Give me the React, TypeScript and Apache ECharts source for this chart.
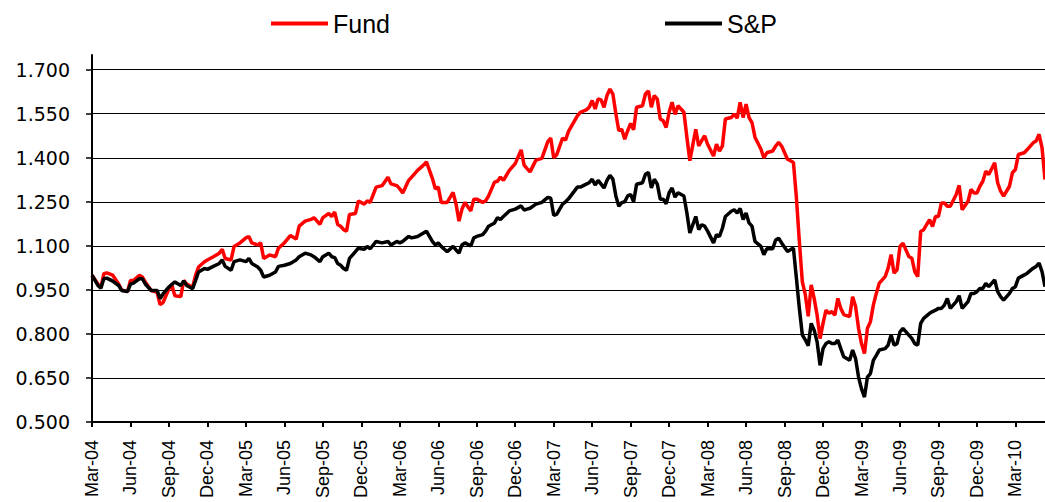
import React, { useEffect, useRef } from "react";
import * as echarts from "echarts";

const quarterLabels = [
  "Mar-04", "Jun-04", "Sep-04", "Dec-04", "Mar-05", "Jun-05", "Sep-05", "Dec-05",
  "Mar-06", "Jun-06", "Sep-06", "Dec-06", "Mar-07", "Jun-07", "Sep-07", "Dec-07",
  "Mar-08", "Jun-08", "Sep-08", "Dec-08", "Mar-09", "Jun-09", "Sep-09", "Dec-09", "Mar-10",
];
const weeksPerQuarter = 13;
const lastWeek = 322;
const yTicks = [0.5, 0.65, 0.8, 0.95, 1.1, 1.25, 1.4, 1.55, 1.7];
const seriesNames = ["Fund", "S&P"];

// week index since the first observation (Mar-04)
const weeks = [
  0, 2, 3, 4, 5, 7, 9, 10, 12, 13,
  14, 16, 17, 18, 20, 22, 23, 24, 26, 27,
  28, 30, 31, 32, 34, 35, 36, 38, 39, 41,
  43, 44, 45, 47, 48, 50, 52, 53, 54, 56,
  57, 58, 60, 62, 63, 65, 67, 69, 70, 72,
  74, 75, 77, 78, 80, 81, 82, 83, 84, 85,
  86, 87, 89, 90, 92, 93, 94, 96, 98, 100,
  101, 103, 104, 105, 107, 108, 110, 112, 113, 115,
  116, 117, 118, 120, 122, 123, 124, 125, 126, 128,
  129, 130, 132, 133, 134, 136, 137, 138, 139, 141,
  143, 145, 146, 147, 148, 150, 152, 154, 155, 156,
  157, 159, 160, 161, 164, 165, 167, 168, 169, 170,
  171, 172, 173, 174, 175, 176, 177, 178, 179, 180,
  181, 182, 183, 184, 186, 187, 188, 189, 190, 191,
  192, 193, 194, 195, 196, 197, 198, 200, 201, 202,
  204, 205, 206, 207, 208, 210, 211, 212, 213, 214,
  216, 217, 218, 219, 220, 221, 222, 223, 224, 226,
  227, 228, 230, 231, 232, 233, 235, 236, 237, 238,
  239, 240, 241, 242, 243, 244, 245, 246, 247, 248,
  249, 250, 251, 252, 253, 254, 256, 257, 258, 259,
  260, 261, 262, 263, 264, 265, 266, 268, 269, 270,
  271, 272, 273, 274, 276, 277, 278, 279, 280, 281,
  283, 284, 285, 286, 287, 288, 289, 290, 292, 293,
  294, 296, 297, 298, 299, 300, 301, 302, 303, 305,
  306, 307, 308, 310, 311, 312, 313, 315, 316, 318,
  319, 320, 321, 322,
];

const fund = [
  1.000, 0.970, 0.958, 1.005, 1.008, 1.000, 0.970, 0.950, 0.944, 0.982,
  0.982, 1.000, 0.994, 0.977, 0.948, 0.942, 0.900, 0.907, 0.954, 0.965,
  0.930, 0.927, 0.982, 0.970, 0.959, 1.000, 1.028, 1.046, 1.052, 1.063,
  1.075, 1.088, 1.057, 1.052, 1.098, 1.110, 1.127, 1.132, 1.110, 1.103,
  1.110, 1.057, 1.069, 1.063, 1.092, 1.110, 1.135, 1.123, 1.167, 1.184,
  1.190, 1.196, 1.173, 1.196, 1.210, 1.200, 1.215, 1.173, 1.167, 1.155,
  1.150, 1.207, 1.210, 1.253, 1.242, 1.253, 1.248, 1.300, 1.305, 1.334,
  1.311, 1.305, 1.294, 1.280, 1.323, 1.334, 1.357, 1.375, 1.386, 1.330,
  1.294, 1.300, 1.248, 1.248, 1.282, 1.242, 1.184, 1.225, 1.248, 1.219,
  1.259, 1.259, 1.248, 1.253, 1.270, 1.317, 1.320, 1.334, 1.323, 1.357,
  1.380, 1.427, 1.375, 1.363, 1.352, 1.392, 1.398, 1.455, 1.467, 1.400,
  1.410, 1.467, 1.460, 1.490, 1.543, 1.555, 1.563, 1.572, 1.595, 1.566,
  1.600, 1.597, 1.572, 1.612, 1.634, 1.617, 1.550, 1.492, 1.497, 1.463,
  1.492, 1.517, 1.495, 1.572, 1.577, 1.617, 1.628, 1.572, 1.612, 1.600,
  1.532, 1.526, 1.503, 1.555, 1.589, 1.548, 1.577, 1.555, 1.470, 1.390,
  1.497, 1.440, 1.458, 1.475, 1.446, 1.406, 1.446, 1.423, 1.440, 1.532,
  1.537, 1.549, 1.535, 1.589, 1.537, 1.583, 1.537, 1.520, 1.470, 1.430,
  1.400, 1.417, 1.423, 1.440, 1.452, 1.440, 1.395, 1.390, 1.384, 1.264,
  1.115, 0.978, 0.935, 0.860, 0.967, 0.921, 0.864, 0.784, 0.836, 0.881,
  0.870, 0.876, 0.864, 0.921, 0.887, 0.866, 0.859, 0.927, 0.893, 0.819,
  0.767, 0.733, 0.819, 0.841, 0.898, 0.938, 0.973, 0.995, 1.024, 1.070,
  1.007, 1.018, 1.098, 1.109, 1.064, 1.058, 1.012, 0.995, 1.149, 1.155,
  1.189, 1.166, 1.200, 1.200, 1.246, 1.246, 1.235, 1.235, 1.275, 1.306,
  1.223, 1.252, 1.292, 1.280, 1.280, 1.303, 1.320, 1.354, 1.343, 1.383,
  1.315, 1.286, 1.269, 1.303, 1.349, 1.360, 1.411, 1.417, 1.428, 1.451,
  1.457, 1.480, 1.434, 1.326,
];

const sp = [
  1.000, 0.965, 0.956, 0.988, 0.990, 0.980, 0.965, 0.948, 0.944, 0.970,
  0.973, 0.988, 0.988, 0.970, 0.948, 0.948, 0.920, 0.936, 0.960, 0.969,
  0.977, 0.965, 0.980, 0.965, 0.954, 0.982, 1.011, 1.023, 1.020, 1.030,
  1.040, 1.052, 1.030, 1.017, 1.046, 1.052, 1.046, 1.057, 1.040, 1.028,
  1.017, 0.994, 1.000, 1.011, 1.030, 1.034, 1.040, 1.052, 1.063, 1.075,
  1.069, 1.063, 1.046, 1.063, 1.075, 1.063, 1.060, 1.040, 1.034, 1.023,
  1.017, 1.057, 1.080, 1.092, 1.088, 1.098, 1.090, 1.115, 1.110, 1.115,
  1.103, 1.115, 1.110, 1.115, 1.132, 1.127, 1.132, 1.144, 1.150, 1.115,
  1.103, 1.110, 1.098, 1.080, 1.098, 1.086, 1.075, 1.103, 1.110, 1.100,
  1.127, 1.132, 1.138, 1.150, 1.167, 1.178, 1.196, 1.190, 1.200, 1.219,
  1.225, 1.236, 1.222, 1.225, 1.228, 1.242, 1.248, 1.265, 1.262, 1.204,
  1.207, 1.242, 1.250, 1.260, 1.300, 1.300, 1.310, 1.315, 1.327, 1.307,
  1.323, 1.310, 1.297, 1.323, 1.340, 1.327, 1.270, 1.235, 1.247, 1.250,
  1.270, 1.275, 1.250, 1.310, 1.315, 1.344, 1.350, 1.297, 1.327, 1.310,
  1.259, 1.259, 1.243, 1.281, 1.297, 1.266, 1.281, 1.270, 1.212, 1.144,
  1.200, 1.155, 1.172, 1.167, 1.150, 1.110, 1.138, 1.132, 1.160, 1.200,
  1.218, 1.223, 1.212, 1.227, 1.190, 1.212, 1.178, 1.167, 1.115, 1.098,
  1.070, 1.090, 1.090, 1.120, 1.126, 1.110, 1.081, 1.087, 1.092, 0.990,
  0.887, 0.797, 0.780, 0.760, 0.836, 0.813, 0.773, 0.693, 0.750, 0.767,
  0.773, 0.767, 0.767, 0.779, 0.750, 0.722, 0.710, 0.745, 0.716, 0.653,
  0.613, 0.585, 0.653, 0.665, 0.710, 0.727, 0.745, 0.750, 0.762, 0.796,
  0.762, 0.767, 0.807, 0.819, 0.796, 0.785, 0.767, 0.762, 0.836, 0.853,
  0.870, 0.876, 0.881, 0.887, 0.887, 0.898, 0.921, 0.887, 0.910, 0.930,
  0.887, 0.910, 0.938, 0.938, 0.944, 0.955, 0.955, 0.972, 0.961, 0.984,
  0.944, 0.927, 0.915, 0.938, 0.955, 0.961, 0.990, 1.001, 1.007, 1.024,
  1.030, 1.041, 1.012, 0.961,
];

export default function App() {
  const ref = useRef<HTMLDivElement>(null);

  useEffect(() => {
    if (!ref.current) return;
    const chart = echarts.init(ref.current, undefined, { renderer: "svg" });
    const quarterTicks = quarterLabels.map((_, i) => i * weeksPerQuarter);

    chart.setOption({
      animation: false,
      backgroundColor: "#ffffff",
      legend: {
        data: seriesNames,
        left: 266,
        top: 6,
        icon: "rect",
        itemWidth: 57,
        itemHeight: 4,
        itemGap: 275,
        textStyle: { fontFamily: "Liberation Sans", fontSize: 25, color: "#000" },
      },
      grid: { left: 92, right: 0, top: 55, bottom: 80, outerBoundsMode: "none", containLabel: false },
      xAxis: {
        type: "value",
        min: 0,
        max: lastWeek,
        splitLine: { show: false },
        axisLine: { lineStyle: { color: "#000", width: 2 } },
        axisTick: {
          show: true,
          customValues: quarterTicks,
          length: 5,
          lineStyle: { color: "#000", width: 2 },
        },
        axisLabel: {
          customValues: quarterTicks,
          rotate: 90,
          margin: 18,
          fontFamily: "Liberation Sans",
          fontSize: 18,
          color: "#000",
          formatter: (v: number) => quarterLabels[Math.round(v / weeksPerQuarter)] ?? "",
        },
      },
      yAxis: {
        type: "value",
        min: 0.5,
        max: 1.75,
        axisLine: { show: true, lineStyle: { color: "#000", width: 2 } },
        axisTick: {
          show: true,
          customValues: yTicks,
          length: 6,
          lineStyle: { color: "#000", width: 1.5 },
        },
        axisLabel: {
          customValues: yTicks,
          margin: 22,
          fontFamily: "DejaVu Sans",
          fontSize: 19,
          color: "#000",
          formatter: (v: number) => v.toFixed(3),
        },
        splitLine: { show: true, lineStyle: { color: "#000", width: 1.2 } },
      },
      series: [
        {
          name: seriesNames[0],
          type: "line",
          data: weeks.map((w, i) => [w, fund[i]]),
          showSymbol: false,
          symbol: "none",
          color: "#ff0000",
          lineStyle: { color: "#ff0000", width: 3.5 },
        },
        {
          name: seriesNames[1],
          type: "line",
          data: weeks.map((w, i) => [w, sp[i]]),
          showSymbol: false,
          symbol: "none",
          color: "#000000",
          lineStyle: { color: "#000000", width: 3.5 },
        },
      ],
    });
    return () => chart.dispose();
  }, []);

  return (
    <div
      ref={ref}
      style={{ position: "absolute", left: 0, top: 0, width: 1045, height: 502, background: "#fff" }}
    />
  );
}
